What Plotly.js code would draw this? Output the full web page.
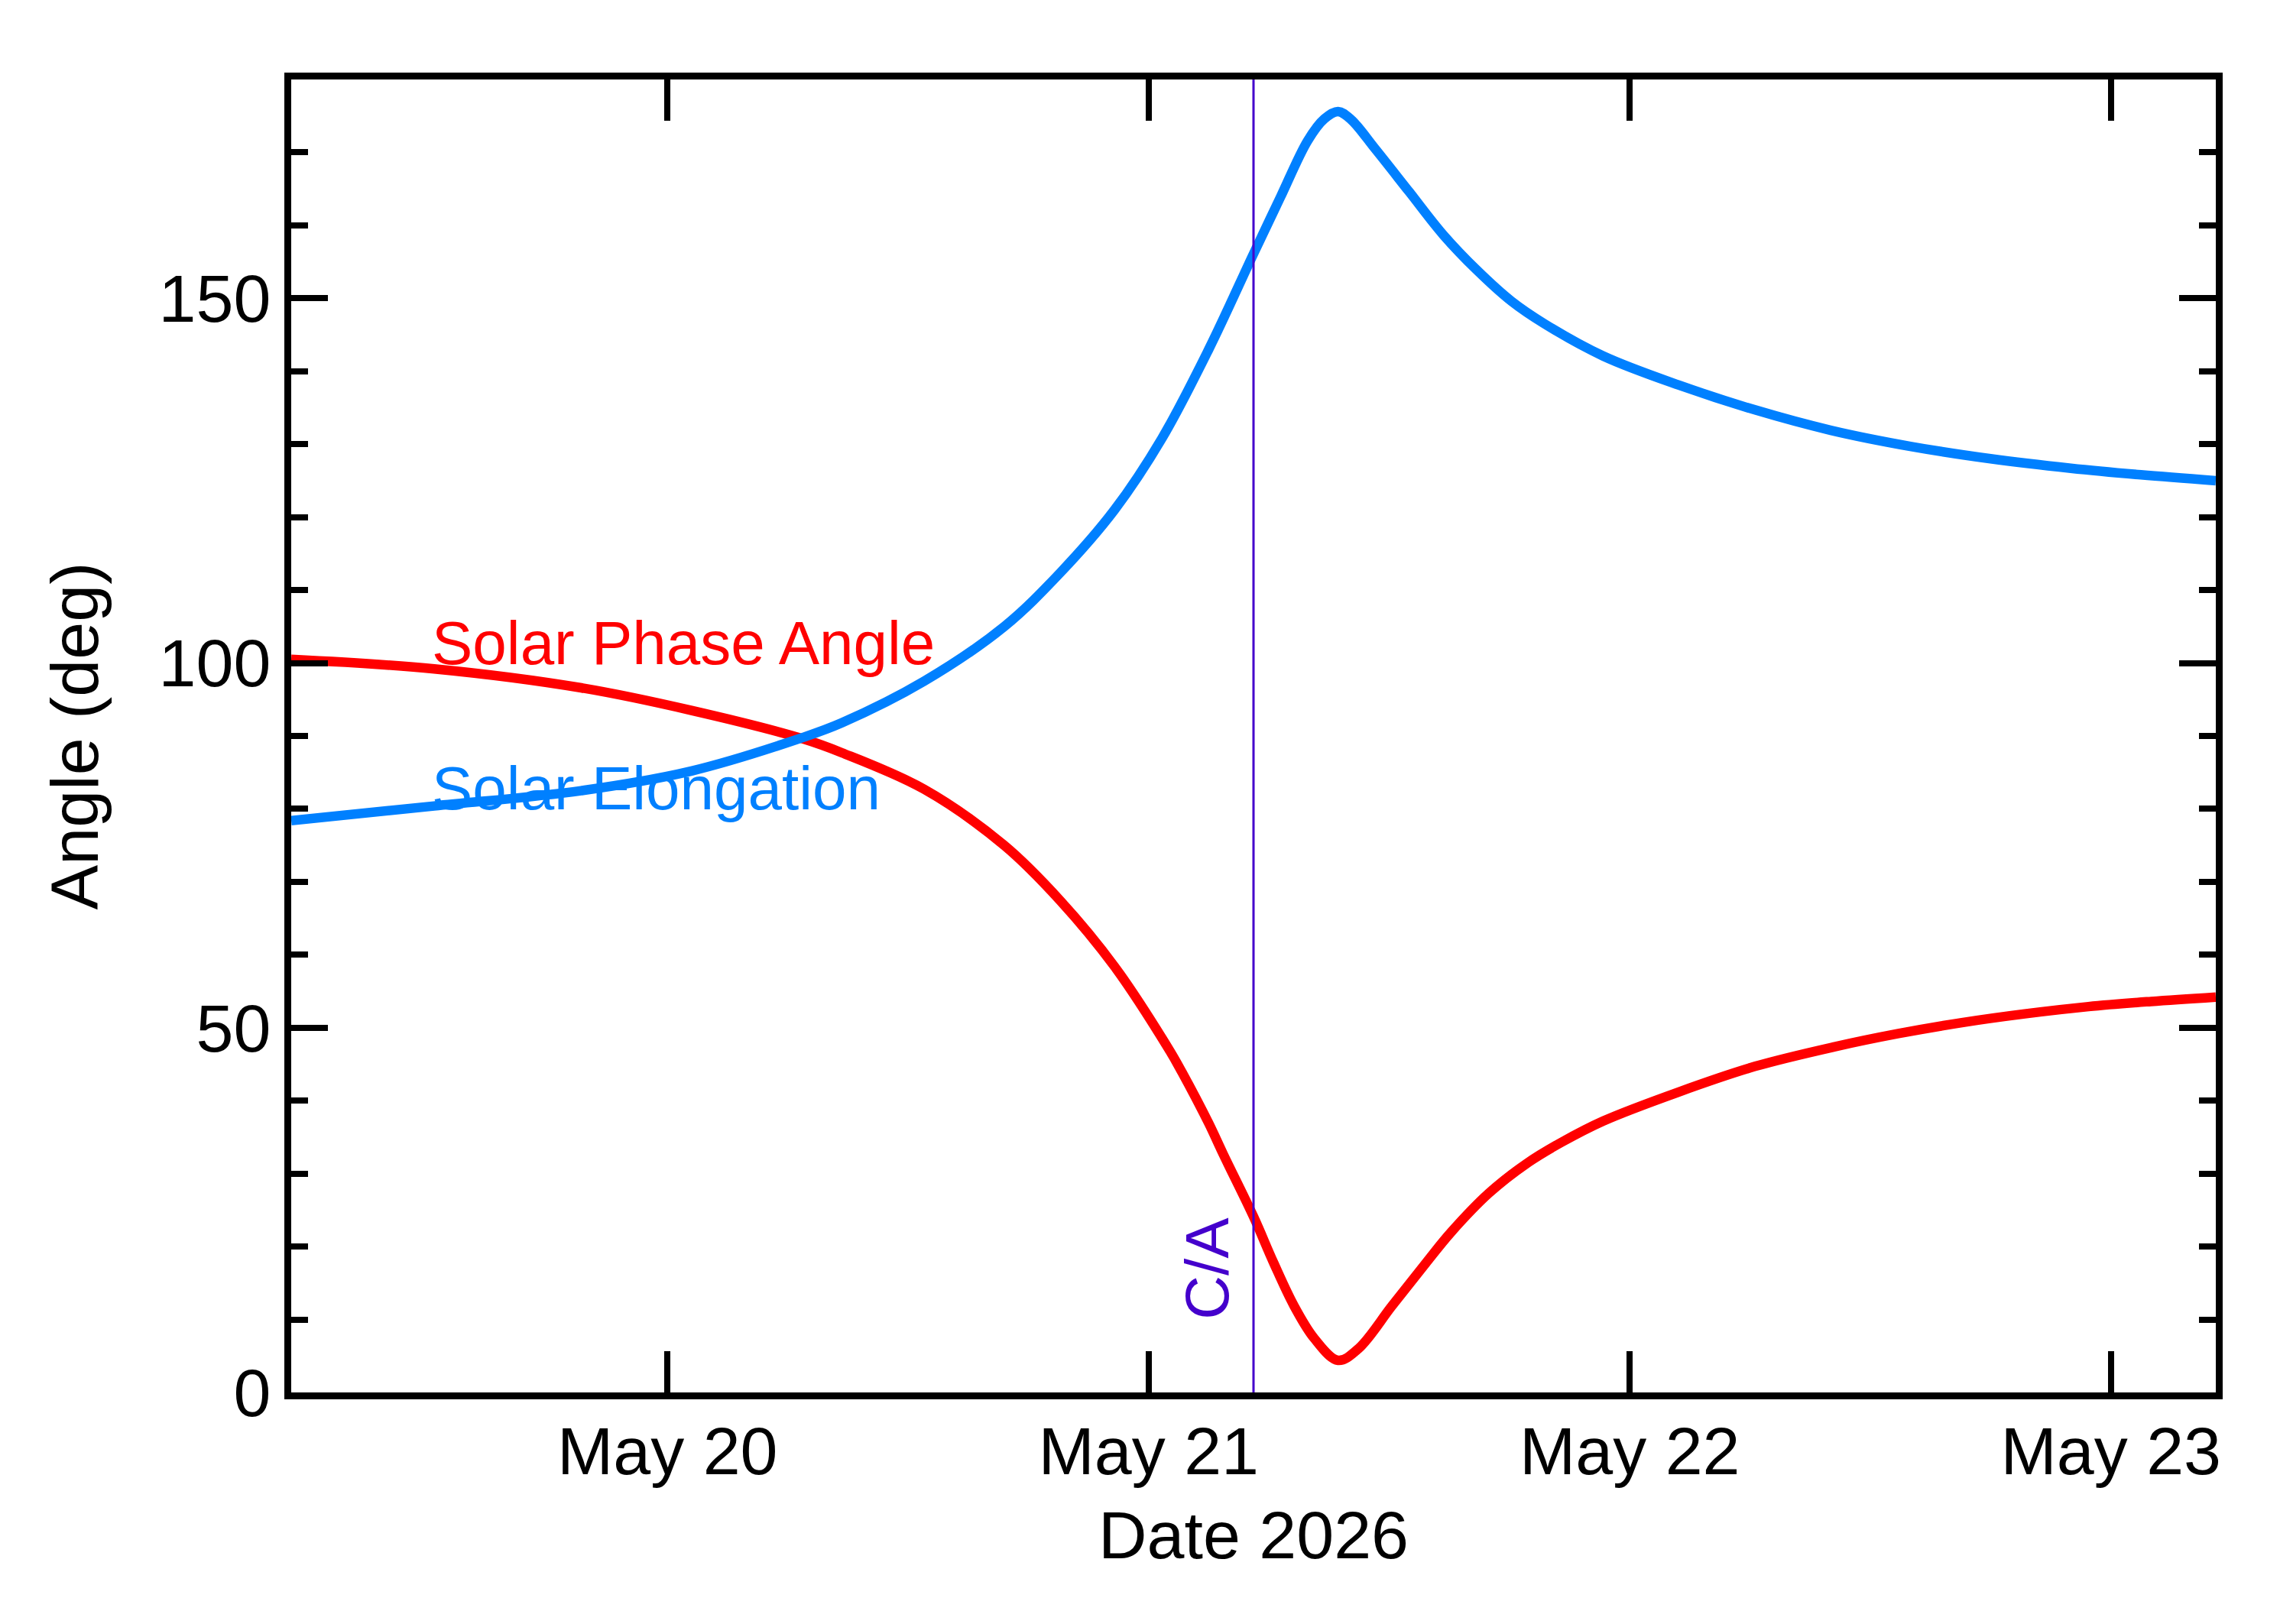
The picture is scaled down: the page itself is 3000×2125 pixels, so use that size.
<!DOCTYPE html>
<html>
<head>
<meta charset="utf-8">
<script src="https://cdn.plot.ly/plotly-3.0.1.min.js"></script>
<style>
  body { margin: 0; background: #fff; }
  #plot { width: 3000px; height: 2125px; }
</style>
</head>
<body>
<div id="plot"></div>
<script>
// solar elongation (deg)
var elongTimes = [
    '2026-05-19 05:14', '2026-05-19 12:22', '2026-05-19 19:42', '2026-05-20 01:12',
    '2026-05-20 06:46', '2026-05-20 08:42', '2026-05-20 12:48', '2026-05-20 16:48',
    '2026-05-20 19:36', '2026-05-20 22:18', '2026-05-21 00:40', '2026-05-21 03:00',
    '2026-05-21 05:14', '2026-05-21 06:35', '2026-05-21 07:56', '2026-05-21 08:46',
    '2026-05-21 09:27', '2026-05-21 10:06', '2026-05-21 11:18', '2026-05-21 13:00',
    '2026-05-21 14:42', '2026-05-21 16:24', '2026-05-21 18:06', '2026-05-21 19:45',
    '2026-05-21 22:40', '2026-05-22 02:27', '2026-05-22 06:15', '2026-05-22 10:02',
    '2026-05-22 14:00', '2026-05-22 18:00', '2026-05-22 22:00', '2026-05-23 01:30',
    '2026-05-23 05:14'
];
var elongValues = [
    78.4, 80.4, 82.5, 85.2,
    89.8, 91.8, 97.5, 105.0,
    112.4, 121.0, 130.8, 143.0,
    156.1, 163.9, 171.6, 174.6,
    175.6, 174.5, 170.5, 164.6,
    158.7, 153.8, 149.6, 146.5,
    142.1, 138.1, 134.7, 131.9,
    129.7, 128.0, 126.7, 125.8,
    125.0
];

// solar phase angle (deg)
var phaseTimes = [
    '2026-05-19 05:14', '2026-05-19 12:22', '2026-05-19 19:42', '2026-05-20 01:12',
    '2026-05-20 06:46', '2026-05-20 08:42', '2026-05-20 12:48', '2026-05-20 16:48',
    '2026-05-20 19:36', '2026-05-20 22:18', '2026-05-21 01:00', '2026-05-21 01:40',
    '2026-05-21 03:00', '2026-05-21 03:43', '2026-05-21 05:14', '2026-05-21 06:14',
    '2026-05-21 07:15', '2026-05-21 08:16', '2026-05-21 09:27', '2026-05-21 10:28',
    '2026-05-21 12:09', '2026-05-21 13:51', '2026-05-21 15:04', '2026-05-21 16:58',
    '2026-05-21 18:52', '2026-05-21 20:36', '2026-05-21 22:40', '2026-05-22 02:27',
    '2026-05-22 06:15', '2026-05-22 10:14', '2026-05-22 13:24', '2026-05-22 16:34',
    '2026-05-22 19:42', '2026-05-22 22:53', '2026-05-23 02:00', '2026-05-23 05:14'
];
var phaseValues = [
    100.5, 99.2, 96.6, 93.5,
    89.6, 87.7, 82.7, 75.0,
    67.4, 58.4, 47.1, 43.9,
    36.9, 32.7, 24.1, 17.8,
    11.9, 7.4, 4.4, 6.0,
    11.9, 17.8, 21.9, 27.3,
    31.4, 34.3, 37.2, 41.2,
    44.7, 47.4, 49.2, 50.7,
    51.9, 52.9, 53.6, 54.2
];

// close approach time and plot window (C/A +- 2 days)
var caTime = '2026-05-21 05:14';
var xRange = ['2026-05-19 05:14', '2026-05-23 05:14'];
var yRange = [0, 180];

var font = 'Liberation Sans, Arial, Helvetica, sans-serif';

var phase = {
    x: phaseTimes,
    y: phaseValues,
    type: 'scatter',
    mode: 'lines',
    line: {color: '#FF0000', width: 12.5, shape: 'spline', smoothing: 1}
};

var elong = {
    x: elongTimes,
    y: elongValues,
    type: 'scatter',
    mode: 'lines',
    line: {color: '#0080FF', width: 12.5, shape: 'spline', smoothing: 1}
};

var caLine = {
    x: [caTime, caTime],
    y: yRange,
    type: 'scatter',
    mode: 'lines',
    line: {color: '#4400CC', width: 3}
};

var layout = {
    width: 3000,
    height: 2125,
    showlegend: false,
    hovermode: false,
    paper_bgcolor: '#fff',
    plot_bgcolor: '#fff',
    margin: {l: 381, r: 101, t: 104, b: 303},
    font: {family: font, color: '#000', size: 88},
    xaxis: {
        type: 'date',
        range: xRange,
        tick0: '2026-05-19',
        dtick: 86400000,
        tickformat: '%b %-d',
        ticks: 'inside',
        ticklen: 54,
        tickwidth: 8,
        tickcolor: '#000',
        ticklabelstandoff: -8,
        showline: true,
        linewidth: 9,
        linecolor: '#000',
        mirror: 'ticks',
        showgrid: false,
        zeroline: false,
        tickfont: {family: font, size: 88, color: '#000'},
        title: {text: 'Date 2026', font: {family: font, size: 88, color: '#000'}, standoff: 34}
    },
    yaxis: {
        range: yRange,
        tick0: 0,
        dtick: 50,
        ticks: 'inside',
        ticklen: 48,
        tickwidth: 8,
        tickcolor: '#000',
        minor: {dtick: 10, ticks: 'inside', ticklen: 22, tickwidth: 8, tickcolor: '#000', showgrid: false},
        showline: true,
        linewidth: 9,
        linecolor: '#000',
        mirror: 'ticks',
        showgrid: false,
        zeroline: false,
        tickfont: {family: font, size: 88, color: '#000'},
        title: {text: 'Angle (deg)', font: {family: font, size: 88, color: '#000'}, standoff: 53}
    },
    annotations: [
        {
            text: 'Solar Phase Angle', xref: 'paper', yref: 'y',
            x: 0.0722, y: 102.7, xanchor: 'left', yanchor: 'middle',
            showarrow: false, font: {family: font, size: 80, color: '#FF0000'}
        },
        {
            text: 'Solar Elongation', xref: 'paper', yref: 'y',
            x: 0.0722, y: 82.8, xanchor: 'left', yanchor: 'middle',
            showarrow: false, font: {family: font, size: 80, color: '#0080FF'}
        },
        {
            text: 'C/A', xref: 'x', yref: 'y',
            x: caTime, y: 17.0, xanchor: 'center', yanchor: 'middle', xshift: -60,
            textangle: -90, showarrow: false,
            font: {family: font, size: 80, color: '#4400CC'}
        }
    ]
};

Plotly.newPlot('plot', [phase, elong, caLine], layout, {staticPlot: true});
</script>
</body>
</html>
